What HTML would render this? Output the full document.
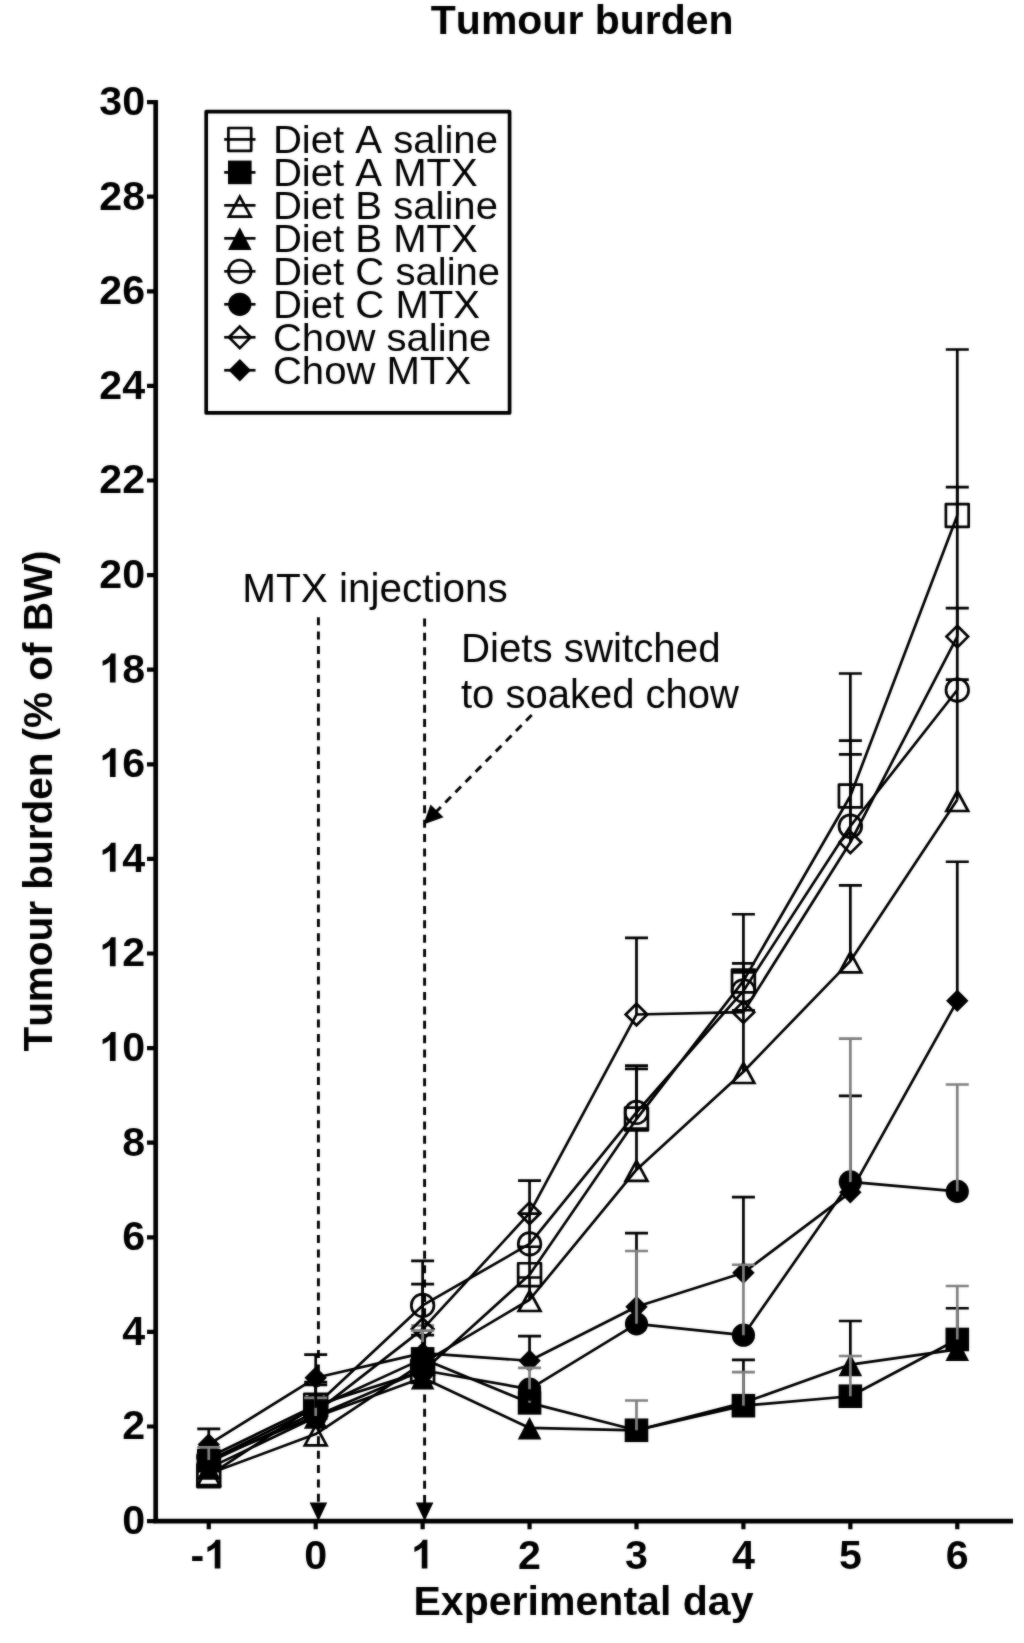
<!DOCTYPE html>
<html><head><meta charset="utf-8"><title>Tumour burden</title>
<style>
html,body{margin:0;padding:0;background:#fff;}
svg{display:block;font-family:"Liberation Sans",sans-serif;font-kerning:none;}
</style></head><body>
<svg width="1024" height="1643" viewBox="0 0 1024 1643">
<defs><filter id="soft" color-interpolation-filters="sRGB" x="0" y="0" width="1024" height="1643" filterUnits="userSpaceOnUse"><feGaussianBlur in="SourceGraphic" stdDeviation="0.8" result="bl"/><feComposite in="SourceGraphic" in2="bl" operator="arithmetic" k1="0" k2="0.6" k3="0.4" k4="0"/></filter></defs>
<g filter="url(#soft)">
<rect width="1024" height="1643" fill="#fff"/>

<text transform="translate(582.20 33.60) scale(0.995 1)" font-size="41.2" font-weight="bold" text-anchor="middle" fill="#000">Tumour burden</text>
<path d="M155.7 100.00V1523.40M153.4 1521.1H1013" stroke="#000" stroke-width="4.7" fill="none"/>
<path d="M147.0 1521.10H155.7M147.0 1426.50H155.7M147.0 1331.90H155.7M147.0 1237.30H155.7M147.0 1142.70H155.7M147.0 1048.10H155.7M147.0 953.50H155.7M147.0 858.90H155.7M147.0 764.30H155.7M147.0 669.70H155.7M147.0 575.10H155.7M147.0 480.50H155.7M147.0 385.90H155.7M147.0 291.30H155.7M147.0 196.70H155.7M147.0 102.10H155.7M208.77 1521.1V1529.3M315.70 1521.1V1529.3M422.63 1521.1V1529.3M529.56 1521.1V1529.3M636.49 1521.1V1529.3M743.42 1521.1V1529.3M850.35 1521.1V1529.3M957.28 1521.1V1529.3" stroke="#000" stroke-width="4.2" fill="none"/>
<text x="122.29" y="1533.90" font-size="41.2" font-weight="bold" fill="#000">0</text>
<text x="122.29" y="1439.30" font-size="41.2" font-weight="bold" fill="#000">2</text>
<text x="122.29" y="1344.70" font-size="41.2" font-weight="bold" fill="#000">4</text>
<text x="122.29" y="1250.10" font-size="41.2" font-weight="bold" fill="#000">6</text>
<text x="122.29" y="1155.50" font-size="41.2" font-weight="bold" fill="#000">8</text>
<path transform="translate(99.37 1060.90) scale(0.02012 -0.01967)" d="M806 0H525V1059Q371 915 162 846V1101Q272 1137 401 1237.5T578 1472H806Z" fill="#000"/><text x="122.29" y="1060.90" font-size="41.2" font-weight="bold" fill="#000">0</text>
<path transform="translate(99.37 966.30) scale(0.02012 -0.01967)" d="M806 0H525V1059Q371 915 162 846V1101Q272 1137 401 1237.5T578 1472H806Z" fill="#000"/><text x="122.29" y="966.30" font-size="41.2" font-weight="bold" fill="#000">2</text>
<path transform="translate(99.37 871.70) scale(0.02012 -0.01967)" d="M806 0H525V1059Q371 915 162 846V1101Q272 1137 401 1237.5T578 1472H806Z" fill="#000"/><text x="122.29" y="871.70" font-size="41.2" font-weight="bold" fill="#000">4</text>
<path transform="translate(99.37 777.10) scale(0.02012 -0.01967)" d="M806 0H525V1059Q371 915 162 846V1101Q272 1137 401 1237.5T578 1472H806Z" fill="#000"/><text x="122.29" y="777.10" font-size="41.2" font-weight="bold" fill="#000">6</text>
<path transform="translate(99.37 682.50) scale(0.02012 -0.01967)" d="M806 0H525V1059Q371 915 162 846V1101Q272 1137 401 1237.5T578 1472H806Z" fill="#000"/><text x="122.29" y="682.50" font-size="41.2" font-weight="bold" fill="#000">8</text>
<text x="99.37" y="587.90" font-size="41.2" font-weight="bold" fill="#000">2</text><text x="122.29" y="587.90" font-size="41.2" font-weight="bold" fill="#000">0</text>
<text x="99.37" y="493.30" font-size="41.2" font-weight="bold" fill="#000">2</text><text x="122.29" y="493.30" font-size="41.2" font-weight="bold" fill="#000">2</text>
<text x="99.37" y="398.70" font-size="41.2" font-weight="bold" fill="#000">2</text><text x="122.29" y="398.70" font-size="41.2" font-weight="bold" fill="#000">4</text>
<text x="99.37" y="304.10" font-size="41.2" font-weight="bold" fill="#000">2</text><text x="122.29" y="304.10" font-size="41.2" font-weight="bold" fill="#000">6</text>
<text x="99.37" y="209.50" font-size="41.2" font-weight="bold" fill="#000">2</text><text x="122.29" y="209.50" font-size="41.2" font-weight="bold" fill="#000">8</text>
<text x="99.37" y="114.90" font-size="41.2" font-weight="bold" fill="#000">3</text><text x="122.29" y="114.90" font-size="41.2" font-weight="bold" fill="#000">0</text>
<text x="190.45" y="1568.60" font-size="41.2" font-weight="bold" fill="#000">-</text><path transform="translate(204.17 1568.60) scale(0.02012 -0.01967)" d="M806 0H525V1059Q371 915 162 846V1101Q272 1137 401 1237.5T578 1472H806Z" fill="#000"/>
<text x="304.24" y="1568.60" font-size="41.2" font-weight="bold" fill="#000">0</text>
<path transform="translate(411.17 1568.60) scale(0.02012 -0.01967)" d="M806 0H525V1059Q371 915 162 846V1101Q272 1137 401 1237.5T578 1472H806Z" fill="#000"/>
<text x="518.10" y="1568.60" font-size="41.2" font-weight="bold" fill="#000">2</text>
<text x="625.03" y="1568.60" font-size="41.2" font-weight="bold" fill="#000">3</text>
<text x="731.96" y="1568.60" font-size="41.2" font-weight="bold" fill="#000">4</text>
<text x="838.89" y="1568.60" font-size="41.2" font-weight="bold" fill="#000">5</text>
<text x="945.82" y="1568.60" font-size="41.2" font-weight="bold" fill="#000">6</text>
<text transform="translate(583.50 1615.40) scale(0.997 1)" font-size="41.2" font-weight="bold" text-anchor="middle" fill="#000">Experimental day</text>
<text transform="translate(52.20 801.00) rotate(-90) scale(0.982 1)" font-size="41.2" font-weight="bold" text-anchor="middle" fill="#000">Tumour burden (% of BW)</text>
<g stroke="#000" stroke-width="2.9" fill="none" stroke-dasharray="8 6.37">
<path d="M318.4 617.2V1504"/><path d="M424.6 618.5V1504"/>
<path d="M531.7 715L434 814"/></g>
<path d="M309.6 1502.4H327.2L318.4 1521Z M415.8 1502.4H433.4L424.6 1521Z" fill="#000"/>
<path d="M423.4 824.6L430.5 804.5L443.5 817.3Z" fill="#000"/>
<text transform="translate(242.20 601.90) scale(1.0 1)" font-size="40.5" font-weight="normal" text-anchor="start" fill="#000">MTX injections</text>
<text transform="translate(460.90 661.90) scale(0.995 1)" font-size="40.5" font-weight="normal" text-anchor="start" fill="#000">Diets switched</text>
<text transform="translate(461.00 708.30) scale(0.988 1)" font-size="40.5" font-weight="normal" text-anchor="start" fill="#000">to soaked chow</text>
<g><polyline points="208.77,1475.69 315.70,1405.21 422.63,1371.40 529.56,1274.67 636.49,1119.05 743.42,980.93 850.35,795.99 957.28,515.50" fill="none" stroke="#000" stroke-width="2.7" stroke-linejoin="round"/><path d="M315.70 1405.21V1382.04M304.20 1382.04H327.20M529.56 1274.67V1246.76M518.06 1246.76H541.06M636.49 1119.05V1068.91M624.99 1068.91H647.99M743.42 980.93V914.24M731.92 914.24H754.92M850.35 795.99V673.48M838.85 673.48H861.85M957.28 515.50V349.48M945.78 349.48H968.78" stroke="#000" stroke-width="2.7" fill="none"/><rect x="197.37" y="1464.29" width="22.8" height="22.8" fill="none" stroke="#000" stroke-width="2.7" stroke-linejoin="round"/><rect x="304.30" y="1393.81" width="22.8" height="22.8" fill="none" stroke="#000" stroke-width="2.7" stroke-linejoin="round"/><rect x="411.23" y="1360.00" width="22.8" height="22.8" fill="none" stroke="#000" stroke-width="2.7" stroke-linejoin="round"/><rect x="518.16" y="1263.27" width="22.8" height="22.8" fill="none" stroke="#000" stroke-width="2.7" stroke-linejoin="round"/><rect x="625.09" y="1107.65" width="22.8" height="22.8" fill="none" stroke="#000" stroke-width="2.7" stroke-linejoin="round"/><rect x="732.02" y="969.53" width="22.8" height="22.8" fill="none" stroke="#000" stroke-width="2.7" stroke-linejoin="round"/><rect x="838.95" y="784.59" width="22.8" height="22.8" fill="none" stroke="#000" stroke-width="2.7" stroke-linejoin="round"/><rect x="945.88" y="504.10" width="22.8" height="22.8" fill="none" stroke="#000" stroke-width="2.7" stroke-linejoin="round"/></g>
<g><polyline points="208.77,1460.79 315.70,1408.10 422.63,1358.86 529.56,1402.85 636.49,1430.28 743.42,1405.69 850.35,1396.23 957.28,1339.47" fill="none" stroke="#000" stroke-width="2.7" stroke-linejoin="round"/><rect x="196.97" y="1448.99" width="23.6" height="23.6" fill="#000"/><rect x="303.90" y="1396.30" width="23.6" height="23.6" fill="#000"/><rect x="410.83" y="1347.06" width="23.6" height="23.6" fill="#000"/><rect x="517.76" y="1391.05" width="23.6" height="23.6" fill="#000"/><rect x="624.69" y="1418.48" width="23.6" height="23.6" fill="#000"/><rect x="731.62" y="1393.89" width="23.6" height="23.6" fill="#000"/><rect x="838.55" y="1384.43" width="23.6" height="23.6" fill="#000"/><rect x="945.48" y="1327.67" width="23.6" height="23.6" fill="#000"/></g>
<g><polyline points="208.77,1473.80 315.70,1434.07 422.63,1363.12 529.56,1299.74 636.49,1169.66 743.42,1071.75 850.35,961.07 957.28,799.77" fill="none" stroke="#000" stroke-width="2.7" stroke-linejoin="round"/><path d="M529.56 1299.74V1277.50M518.06 1277.50H541.06M636.49 1169.66V1128.51M624.99 1128.51H647.99M743.42 1071.75V1010.26M731.92 1010.26H754.92M850.35 961.07V885.39M838.85 885.39H861.85M957.28 799.77V679.63M945.78 679.63H968.78" stroke="#000" stroke-width="2.7" fill="none"/><path d="M208.77 1465.05L219.67 1485.05L197.87 1485.05Z" fill="none" stroke="#000" stroke-width="2.7"/><path d="M315.70 1425.32L326.60 1445.32L304.80 1445.32Z" fill="none" stroke="#000" stroke-width="2.7"/><path d="M422.63 1354.37L433.53 1374.37L411.73 1374.37Z" fill="none" stroke="#000" stroke-width="2.7"/><path d="M529.56 1290.99L540.46 1310.99L518.66 1310.99Z" fill="none" stroke="#000" stroke-width="2.7"/><path d="M636.49 1160.91L647.39 1180.91L625.59 1180.91Z" fill="none" stroke="#000" stroke-width="2.7"/><path d="M743.42 1063.00L754.32 1083.00L732.52 1083.00Z" fill="none" stroke="#000" stroke-width="2.7"/><path d="M850.35 952.32L861.25 972.32L839.45 972.32Z" fill="none" stroke="#000" stroke-width="2.7"/><path d="M957.28 791.02L968.18 811.02L946.38 811.02Z" fill="none" stroke="#000" stroke-width="2.7"/></g>
<g><polyline points="208.77,1468.12 315.70,1417.04 422.63,1377.78 529.56,1427.92 636.49,1430.28 743.42,1402.85 850.35,1364.54 957.28,1349.40" fill="none" stroke="#000" stroke-width="2.7" stroke-linejoin="round"/><path d="M743.42 1402.85V1359.81M731.92 1359.81H754.92M850.35 1364.54V1321.02M838.85 1321.02H861.85M957.28 1349.40V1308.25M945.78 1308.25H968.78" stroke="#000" stroke-width="2.7" fill="none"/><path d="M208.77 1457.12L220.57 1479.82L196.97 1479.82Z" fill="#000"/><path d="M315.70 1406.04L327.50 1428.74L303.90 1428.74Z" fill="#000"/><path d="M422.63 1366.78L434.43 1389.48L410.83 1389.48Z" fill="#000"/><path d="M529.56 1416.92L541.36 1439.62L517.76 1439.62Z" fill="#000"/><path d="M636.49 1419.28L648.29 1441.98L624.69 1441.98Z" fill="#000"/><path d="M743.42 1391.85L755.22 1414.55L731.62 1414.55Z" fill="#000"/><path d="M850.35 1353.54L862.15 1376.24L838.55 1376.24Z" fill="#000"/><path d="M957.28 1338.40L969.08 1361.10L945.48 1361.10Z" fill="#000"/></g>
<path d="M422.63 1358.86V1325.51M411.13 1325.51H434.13M529.56 1402.85V1386.29M518.06 1386.29H541.06M636.49 1430.28V1400.48M624.99 1400.48H647.99M743.42 1405.69V1372.11M731.92 1372.11H754.92M850.35 1396.23V1356.02M838.85 1356.02H861.85M957.28 1339.47V1286.02M945.78 1286.02H968.78" stroke="#808080" stroke-width="2.7" fill="none"/>
<g><polyline points="208.77,1457.20 315.70,1405.59 422.63,1305.41 529.56,1243.92 636.49,1112.43 743.42,990.87 850.35,826.26 957.28,690.04" fill="none" stroke="#000" stroke-width="2.7" stroke-linejoin="round"/><path d="M315.70 1405.59V1384.88M304.20 1384.88H327.20M422.63 1305.41V1260.95M411.13 1260.95H434.13M529.56 1243.92V1213.65M518.06 1213.65H541.06M636.49 1112.43V1065.60M624.99 1065.60H647.99M743.42 990.87V972.42M731.92 972.42H754.92M850.35 826.26V740.65M838.85 740.65H861.85M957.28 690.04V608.21M945.78 608.21H968.78" stroke="#000" stroke-width="2.7" fill="none"/><circle cx="208.77" cy="1457.20" r="11.3" fill="none" stroke="#000" stroke-width="2.7"/><circle cx="315.70" cy="1405.59" r="11.3" fill="none" stroke="#000" stroke-width="2.7"/><circle cx="422.63" cy="1305.41" r="11.3" fill="none" stroke="#000" stroke-width="2.7"/><circle cx="529.56" cy="1243.92" r="11.3" fill="none" stroke="#000" stroke-width="2.7"/><circle cx="636.49" cy="1112.43" r="11.3" fill="none" stroke="#000" stroke-width="2.7"/><circle cx="743.42" cy="990.87" r="11.3" fill="none" stroke="#000" stroke-width="2.7"/><circle cx="850.35" cy="826.26" r="11.3" fill="none" stroke="#000" stroke-width="2.7"/><circle cx="957.28" cy="690.04" r="11.3" fill="none" stroke="#000" stroke-width="2.7"/></g>
<g><polyline points="208.77,1460.08 315.70,1416.09 422.63,1370.21 529.56,1389.13 636.49,1323.86 743.42,1335.21 850.35,1181.96 957.28,1191.42" fill="none" stroke="#000" stroke-width="2.7" stroke-linejoin="round"/><circle cx="208.77" cy="1460.08" r="11.6" fill="#000"/><circle cx="315.70" cy="1416.09" r="11.6" fill="#000"/><circle cx="422.63" cy="1370.21" r="11.6" fill="#000"/><circle cx="529.56" cy="1389.13" r="11.6" fill="#000"/><circle cx="636.49" cy="1323.86" r="11.6" fill="#000"/><circle cx="743.42" cy="1335.21" r="11.6" fill="#000"/><circle cx="850.35" cy="1181.96" r="11.6" fill="#000"/><circle cx="957.28" cy="1191.42" r="11.6" fill="#000"/></g>
<g><polyline points="208.77,1462.40 315.70,1412.31 422.63,1329.06 529.56,1213.18 636.49,1014.52 743.42,1012.15 850.35,842.34 957.28,636.59" fill="none" stroke="#000" stroke-width="2.7" stroke-linejoin="round"/><path d="M422.63 1329.06V1284.13M411.13 1284.13H434.13M529.56 1213.18V1180.54M518.06 1180.54H541.06M636.49 1014.52V937.89M624.99 937.89H647.99M743.42 1012.15V963.43M731.92 963.43H754.92M850.35 842.34V754.37M838.85 754.37H861.85M957.28 636.59V487.12M945.78 487.12H968.78" stroke="#000" stroke-width="2.7" fill="none"/><path d="M208.77 1451.60L219.57 1462.40L208.77 1473.20L197.97 1462.40Z" fill="none" stroke="#000" stroke-width="2.7"/><path d="M315.70 1401.51L326.50 1412.31L315.70 1423.11L304.90 1412.31Z" fill="none" stroke="#000" stroke-width="2.7"/><path d="M422.63 1318.26L433.43 1329.06L422.63 1339.86L411.83 1329.06Z" fill="none" stroke="#000" stroke-width="2.7"/><path d="M529.56 1202.38L540.36 1213.18L529.56 1223.98L518.76 1213.18Z" fill="none" stroke="#000" stroke-width="2.7"/><path d="M636.49 1003.72L647.29 1014.52L636.49 1025.32L625.69 1014.52Z" fill="none" stroke="#000" stroke-width="2.7"/><path d="M743.42 1001.35L754.22 1012.15L743.42 1022.95L732.62 1012.15Z" fill="none" stroke="#000" stroke-width="2.7"/><path d="M850.35 831.54L861.15 842.34L850.35 853.14L839.55 842.34Z" fill="none" stroke="#000" stroke-width="2.7"/><path d="M957.28 625.79L968.08 636.59L957.28 647.39L946.48 636.59Z" fill="none" stroke="#000" stroke-width="2.7"/></g>
<g><polyline points="208.77,1444.47 315.70,1377.78 422.63,1353.18 529.56,1360.75 636.49,1306.83 743.42,1272.77 850.35,1192.36 957.28,1000.80" fill="none" stroke="#000" stroke-width="2.7" stroke-linejoin="round"/><path d="M208.77 1444.47V1428.87M197.27 1428.87H220.27M315.70 1377.78V1354.60M304.20 1354.60H327.20M422.63 1353.18V1335.21M411.13 1335.21H434.13M529.56 1360.75V1336.16M518.06 1336.16H541.06M636.49 1306.83V1233.04M624.99 1233.04H647.99M743.42 1272.77V1197.10M731.92 1197.10H754.92M850.35 1192.36V1095.87M838.85 1095.87H861.85M957.28 1000.80V861.74M945.78 861.74H968.78" stroke="#000" stroke-width="2.7" fill="none"/><path d="M208.77 1433.27L219.97 1444.47L208.77 1455.67L197.57 1444.47Z" fill="#000"/><path d="M315.70 1366.58L326.90 1377.78L315.70 1388.98L304.50 1377.78Z" fill="#000"/><path d="M422.63 1341.98L433.83 1353.18L422.63 1364.38L411.43 1353.18Z" fill="#000"/><path d="M529.56 1349.55L540.76 1360.75L529.56 1371.95L518.36 1360.75Z" fill="#000"/><path d="M636.49 1295.63L647.69 1306.83L636.49 1318.03L625.29 1306.83Z" fill="#000"/><path d="M743.42 1261.57L754.62 1272.77L743.42 1283.97L732.22 1272.77Z" fill="#000"/><path d="M850.35 1181.16L861.55 1192.36L850.35 1203.56L839.15 1192.36Z" fill="#000"/><path d="M957.28 989.60L968.48 1000.80L957.28 1012.00L946.08 1000.80Z" fill="#000"/></g>
<path d="M208.77 1460.08V1447.31M197.27 1447.31H220.27M315.70 1416.09V1397.88M304.20 1397.88H327.20M422.63 1342.00V1330.72M411.13 1330.72H434.13M529.56 1389.13V1367.85M518.06 1367.85H541.06M636.49 1323.86V1251.02M624.99 1251.02H647.99M743.42 1335.21V1264.73M731.92 1264.73H754.92M850.35 1181.96V1038.64M838.85 1038.64H861.85M957.28 1191.42V1084.52M945.78 1084.52H968.78" stroke="#808080" stroke-width="2.7" fill="none"/>
<path d="M315.70 1383.93V1407.8" stroke="#000" stroke-width="2.7"/>
<rect x="206.2" y="111.7" width="303.4" height="301.2" fill="#fff" stroke="#000" stroke-width="3.7" stroke-linejoin="round"/>
<path d="M224.2 139.40H255.5" stroke="#000" stroke-width="2.7"/>
<rect x="228.40" y="128.00" width="22.8" height="22.8" fill="none" stroke="#000" stroke-width="2.7" stroke-linejoin="round"/>
<text transform="translate(272.90 153.00) scale(1.023 1)" font-size="39.2" font-weight="normal" text-anchor="start" fill="#000">Diet A saline</text>
<path d="M224.2 172.38H255.5" stroke="#000" stroke-width="2.7"/>
<rect x="228.00" y="160.58" width="23.6" height="23.6" fill="#000"/>
<text transform="translate(272.90 185.98) scale(1.023 1)" font-size="39.2" font-weight="normal" text-anchor="start" fill="#000">Diet A MTX</text>
<path d="M224.2 205.36H255.5" stroke="#000" stroke-width="2.7"/>
<path d="M239.80 196.61L250.70 216.61L228.90 216.61Z" fill="none" stroke="#000" stroke-width="2.7"/>
<text transform="translate(272.90 218.96) scale(1.023 1)" font-size="39.2" font-weight="normal" text-anchor="start" fill="#000">Diet B saline</text>
<path d="M224.2 238.34H255.5" stroke="#000" stroke-width="2.7"/>
<path d="M239.80 227.34L251.60 250.04L228.00 250.04Z" fill="#000"/>
<text transform="translate(272.90 251.94) scale(1.023 1)" font-size="39.2" font-weight="normal" text-anchor="start" fill="#000">Diet B MTX</text>
<path d="M224.2 271.32H255.5" stroke="#000" stroke-width="2.7"/>
<circle cx="239.80" cy="271.32" r="11.3" fill="none" stroke="#000" stroke-width="2.7"/>
<text transform="translate(272.90 284.92) scale(1.023 1)" font-size="39.2" font-weight="normal" text-anchor="start" fill="#000">Diet C saline</text>
<path d="M224.2 304.30H255.5" stroke="#000" stroke-width="2.7"/>
<circle cx="239.80" cy="304.30" r="11.6" fill="#000"/>
<text transform="translate(272.90 317.90) scale(1.023 1)" font-size="39.2" font-weight="normal" text-anchor="start" fill="#000">Diet C MTX</text>
<path d="M224.2 337.28H255.5" stroke="#000" stroke-width="2.7"/>
<path d="M239.80 326.48L250.60 337.28L239.80 348.08L229.00 337.28Z" fill="none" stroke="#000" stroke-width="2.7"/>
<text transform="translate(272.90 350.88) scale(1.023 1)" font-size="39.2" font-weight="normal" text-anchor="start" fill="#000">Chow saline</text>
<path d="M224.2 370.26H255.5" stroke="#000" stroke-width="2.7"/>
<path d="M239.80 359.06L251.00 370.26L239.80 381.46L228.60 370.26Z" fill="#000"/>
<text transform="translate(272.90 383.86) scale(1.023 1)" font-size="39.2" font-weight="normal" text-anchor="start" fill="#000">Chow MTX</text>
</g></svg></body></html>
